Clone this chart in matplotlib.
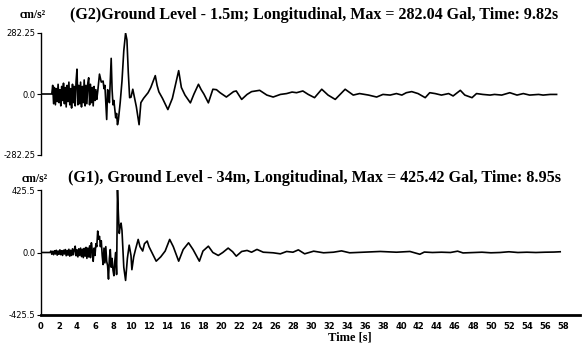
import matplotlib
matplotlib.use("Agg")
import matplotlib.pyplot as plt

# ---- data ----
t_top = [0, 1.2, 1.3, 1.4, 1.5, 1.6, 1.7, 1.8, 1.9, 2.0, 2.1, 2.2, 2.3, 2.4, 2.5, 2.6, 2.7, 2.8, 2.9,
         3.0, 3.1, 3.2, 3.3, 3.4, 3.5, 3.6, 3.7, 3.8, 3.9, 4.0, 4.1, 4.2, 4.3, 4.4, 4.5, 4.6, 4.7,
         4.8, 4.9, 5.0, 5.1, 5.2, 5.3, 5.4, 5.5, 5.6, 5.7, 5.8, 5.9, 6.0, 6.1, 6.2, 6.3,
         6.5, 6.7, 6.9, 7.0, 7.1, 7.3, 7.4, 7.5, 7.6, 7.8, 7.9, 8.0, 8.1, 8.3, 8.4, 8.5, 8.6,
         8.8, 9.0, 9.2, 9.4, 9.55, 9.7, 9.85, 10.0, 10.2, 10.4, 10.6, 10.9, 11.1, 11.4, 11.9,
         12.2, 12.7, 12.9, 13.1, 13.5, 14.1, 14.6, 15.3, 15.6, 16.0, 16.6, 17.0, 17.5, 17.8,
         18.1, 18.6, 19.1, 19.5, 19.9, 20.6, 21.4, 21.7, 22.3, 22.9, 23.4, 24.3, 25.1, 25.8,
         26.6, 27.3, 27.9, 28.4, 29.1, 29.7, 30.4, 31.2, 31.9, 32.7, 33.8, 34.7, 35.4, 36.4,
         37.3, 38.0, 38.8, 39.5, 40.1, 40.6, 41.2, 41.9, 42.7, 43.2, 43.8, 44.5, 45.3, 45.8,
         46.6, 47.1, 47.9, 48.4, 49.1, 49.9, 50.4, 51.2, 52.1, 52.9, 53.6, 54.3, 55.3, 55.8,
         56.6, 57.3]
a_top = [0, 0, 40, -45, 30, -50, 25, -35, 45, -40, 20, -55, 35, -30, 50, -45, 30, -60, 40,
         -35, 55, -50, 25, -65, 45, -40, 35, -55, 60, 115, -50, 40, -45, 55, -60, 35, -40,
         65, -55, 40, -45, 50, 75, -50, 45, -40, 30, -55, 35, -30, 20, -25, 10,
         92, 55, 60, 25, 40, -118, 20, 10, -40, 165, 20, -50, -30, -110, -90, -142, -120,
         -40, 60, 200, 282, 250, 100, -17, -15, 22, -20, -60, -142, -40, -20, 6,
         30, 85, 40, 10, -20, -72, -20, 108, 30, -5, -41, 0, 45, 20,
         0, -41, 22, 20, 6, -14, 11, 14, -25, -2, 11, 17, -5, -14,
         -2, 2, 9, 6, 14, -2, -17, 22, -5, -25, 22, -5, 2, -5,
         -14, -2, -5, 2, -5, 6, 11, 2, -17, 6, 2, -5, 2, -9,
         17, -5, -17, 2, -2, -5, -2, -5, 6, -5, 2, -5, -2, -5,
         -2, -2]

t_bot = [0, 1.0, 1.1, 1.2, 1.3, 1.4, 1.5, 1.6, 1.7, 1.8, 1.9, 2.0, 2.1, 2.2, 2.3, 2.4, 2.5, 2.6,
         2.7, 2.8, 2.9, 3.0, 3.1, 3.2, 3.3, 3.4, 3.5, 3.6, 3.7, 3.8, 3.9, 4.0, 4.1, 4.2, 4.3,
         4.4, 4.5, 4.6, 4.7, 4.8, 4.9, 5.0, 5.1, 5.2, 5.3, 5.4, 5.5, 5.6, 5.7, 5.8, 5.9, 6.0,
         6.1, 6.2, 6.3, 6.4, 6.5, 6.6, 6.7, 6.8, 6.9, 7.0, 7.1, 7.2, 7.3, 7.4, 7.5, 7.6, 7.7,
         7.8, 7.9, 8.0, 8.1, 8.2, 8.3, 8.4, 8.5, 8.6, 8.7, 8.8, 8.9, 9.0, 9.1, 9.2, 9.4, 9.6,
         9.8, 10.0, 10.1, 10.3, 10.5, 10.8, 11.0, 11.3, 11.5, 11.8, 12.0, 12.4, 12.8, 13.3,
         13.8, 14.3, 14.7, 15.3, 15.8, 16.4, 16.9, 17.6, 18.0, 18.6, 19.1, 19.7, 20.2, 20.8,
         21.3, 21.7, 22.3, 22.9, 23.4, 24.0, 24.7, 25.8, 26.6, 27.3, 28.0, 28.6, 29.3, 30.3,
         31.4, 32.5, 33.4, 34.3, 35.8, 37.7, 39.5, 41.0, 42.1, 42.6, 43.5, 44.5, 45.5, 46.3,
         46.9, 48.0, 49.0, 50.0, 51.0, 52.0, 53.0, 54.0, 55.0, 56.0, 57.0, 57.7]
a_bot = [0, 0, 10, -12, 8, -15, 12, -10, 15, -18, 10, -12, 18, -15, 12, -20, 15, -10,
         20, -22, 14, -18, 22, -25, 15, -20, 25, -15, 20, 43, -22, 18, -30, 25, -20,
         30, -28, 22, -35, 28, -25, 35, -40, 30, -30, 45, -35, 66, 10, -60, 30, -20,
         60, 40, 146, 90, 110, 40, 80, -20, -82, 30, -71, 40, -60, -90, -181, -40, 20,
         -100, -40, -120, -158, -60, 0, -150, 425, 260, 130, 180, 200, 150, 20, -100, -190, -40,
         50, -20, -117, -30, 20, 89, 40, 10, 60, 78, 40, -10, -59, -30,
         10, 89, 40, -59, 20, 66, 20, -59, 10, 43, 0, -20, 0, 30,
         5, -25, 7, 14, 2, 21, 2, -2, -9, 7, 2, 18, -9, 9,
         -2, 2, 11, -2, 2, 7, 2, 7, -12, 3, 0, 2, 0, 9,
         -3, 0, 2, -2, 0, 5, 0, 2, 0, 2, 3, 5]

top_title = "(G2)Ground Level - 1.5m; Longitudinal, Max = 282.04 Gal, Time: 9.82s"
bot_title = "(G1), Ground Level - 34m, Longitudinal, Max = 425.42 Gal, Time: 8.95s"
top_lim = 282.25
bot_lim = 425.5
top_ticklabels = ["-282.25", "0.0", "282.25"]
bot_ticklabels = ["-425.5", "0.0", "425.5"]
x_ticks = list(range(0, 60, 2))

W, H = 584, 356
fig = plt.figure(figsize=(W / 100, H / 100), dpi=100)

def ax_rect(left, right, top, bottom):
    return [left / W, 1 - bottom / H, (right - left) / W, (bottom - top) / H]

serif = "Liberation Serif"

ax1 = fig.add_axes(ax_rect(41, 580, 33, 155))
ax1.plot(t_top, a_top, color="black", lw=1.2)
ax1.set_xlim(0, 59.9)
ax1.set_ylim(-top_lim, top_lim)
ax1.set_yticks([-top_lim, 0, top_lim])
ax1.set_yticklabels(top_ticklabels)
for s in ["top", "right", "bottom"]:
    ax1.spines[s].set_visible(False)
ax1.spines["left"].set_linewidth(1.0)
ax1.set_xticks([])
ax1.tick_params(axis="y", direction="out", length=3, width=0.8, labelsize=6, pad=1)

ax2 = fig.add_axes(ax_rect(41, 580, 190, 315))
ax2.plot(t_bot, a_bot, color="black", lw=1.2)
ax2.set_xlim(0, 59.9)
ax2.set_ylim(-bot_lim, bot_lim)
ax2.set_yticks([-bot_lim, 0, bot_lim])
ax2.set_yticklabels(bot_ticklabels)
for s in ["top", "right"]:
    ax2.spines[s].set_visible(False)
ax2.spines["left"].set_linewidth(1.0)
ax2.spines["bottom"].set_linewidth(2.0)
ax2.set_xticks(x_ticks)
ax2.set_xticklabels([str(v) for v in x_ticks])
ax2.tick_params(axis="y", direction="out", length=3, width=0.8, labelsize=6, pad=1)
ax2.tick_params(axis="x", length=0, labelsize=6, pad=5)
for lab in ax2.get_xticklabels():
    lab.set_fontweight("bold")

fig.text(20 / W, 1 - 15 / H, "cm/s²", family=serif, weight="bold", fontsize=8.5, va="center", ha="left")
fig.text(70 / W, 1 - 15 / H, top_title, family=serif, weight="bold", fontsize=11.5, va="center", ha="left")
fig.text(22 / W, 1 - 179 / H, "cm/s²", family=serif, weight="bold", fontsize=8.5, va="center", ha="left")
fig.text(68 / W, 1 - 178 / H, bot_title, family=serif, weight="bold", fontsize=11.6, va="center", ha="left")
fig.text(350 / W, 1 - 337 / H, "Time [s]", family=serif, weight="bold", fontsize=9, va="center", ha="center")

fig.savefig("out.png", dpi=100, facecolor="white")
